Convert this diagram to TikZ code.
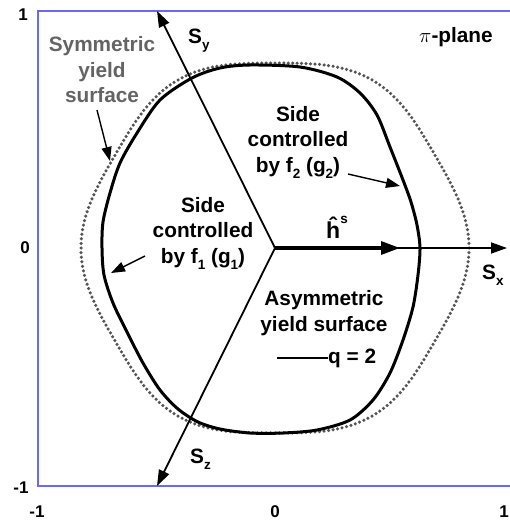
\documentclass[tikz,border=0pt]{standalone}
\usepackage{fontspec}
\setmainfont{Liberation Sans}
\usetikzlibrary{arrows.meta}
\definecolor{framecol}{RGB}{105,105,245}
\definecolor{dotgray}{RGB}{85,85,85}
\definecolor{labgray}{RGB}{100,100,100}
\newcommand\lowsub[1]{\raisebox{-0.55ex}{\fontsize{13.5}{13.5}\selectfont #1}}
\begin{document}
\begin{tikzpicture}[x=1pt,y=-1pt,
  lbl/.style={font=\fontsize{20.8}{25.5}\selectfont\bfseries, align=center, inner sep=0pt},
  tick/.style={font=\fontsize{17}{17}\selectfont\bfseries, inner sep=0pt},
  axis/.style={line width=1.8pt, -{Triangle[length=16pt,width=11pt]}},
  hvec/.style={line width=3.2pt, -{Triangle[length=19pt,width=13pt]}},
  ptr/.style={line width=1.4pt, -{Triangle[length=14pt,width=10pt]}},
  frameline/.style={line width=1.4pt, draw=framecol},
  symdot/.style={fill=dotgray},
  asymcurve/.style={draw=black, line width=3pt}
]
\useasboundingbox (0,0) rectangle (510,525);
% frame
\draw[frameline] (510,11) -- (38,11) -- (38,486) -- (510,486);
% tick labels
\node[tick] (t1) at (23,15) {1};
\node[tick] (t0) at (25,248) {0};
\node[tick] (tm1) at (21,488) {-1};
\node[tick] (bm1) at (37,512) {-1};
\node[tick] (b0) at (275,512) {0};
\node[tick] (b1) at (504,512) {1};
% symmetric yield surface (dotted)
\foreach \k in {0,1,...,263}{
  \pgfmathsetmacro\t{\k*1.363636}
  \pgfmathsetmacro\rr{189.5+4.5*cos(6*\t)}
  \fill[symdot] ({275+\rr*cos(\t)},{248-\rr*sin(\t)}) circle (1.75pt);
}
% asymmetric yield surface (solid)
\draw[asymcurve] plot[smooth cycle, tension=0.5] coordinates {
 (420,248) (418,275) (413,307) (403,340) (390,373) (373,400) (350,420) (317,430)
 (283,433) (250,433) (220,429) (198,422) (178,409) (160,390) (143,363) (127,332)
 (113,303) (104,275) (102,248) (103,222) (110,193) (120,163) (137,133) (160,100)
 (192,78) (220,68) (250,65) (300,67) (337,77) (360,93) (377,115) (390,147)
 (403,180) (411,202) (417,225)};
% axes
\coordinate (O) at (275,248);
\coordinate (Ytip) at (157,11);
\coordinate (Ztip) at (157,486);
\coordinate (Xtip) at (507,248);
\coordinate (Htip) at (400,248);
\draw[axis] (O) -- (Ytip);
\draw[axis] (O) -- (Ztip);
\draw[axis] (O) -- (Xtip);
\draw[hvec] (O) -- (Htip);
% axis labels
\node[lbl, anchor=base west] (Sy) at (188,43) {S\lowsub{y}};
\node[lbl, anchor=base west] (Sx) at (482,279) {S\lowsub{x}};
\node[lbl, anchor=base west] (Sz) at (190,463) {S\lowsub{z}};
\node[lbl, anchor=base west] (hs) at (326,238) {{\fontsize{23}{23}\selectfont\^{h}}\raisebox{1.3ex}{\fontsize{13.5}{13.5}\selectfont s}};
% pi-plane
\node[lbl, anchor=center] (pip) at (456,37) {$\pi$-plane};
% labels
\node[lbl, text=labgray] (sym) at (102,70) {Symmetric\\yield\\surface};
\node[lbl] (f2) at (298,142) {Side\\controlled\\by f\lowsub{2} (g\lowsub{2})};
\node[lbl] (f1) at (203,233) {Side\\controlled\\by f\lowsub{1} (g\lowsub{1})};
\node[lbl] (asym) at (324,313) {Asymmetric\\yield surface};
\node[lbl, anchor=west] (q) at (328,358) {q = 2};
\coordinate (legA) at (277,358);
\draw[line width=2.2pt] (legA) -- (q.west);
% pointer arrows
\coordinate (symS) at (97,110);
\coordinate (symT) at (110,161);
\draw[ptr] (symS) -- (symT);
\coordinate (f2S) at (348,174);
\coordinate (f2T) at (400,186);
\draw[ptr] (f2S) -- (f2T);
\coordinate (f1S) at (145,256);
\coordinate (f1T) at (111,273);
\draw[ptr] (f1S) -- (f1T);
\end{tikzpicture}
\end{document}
